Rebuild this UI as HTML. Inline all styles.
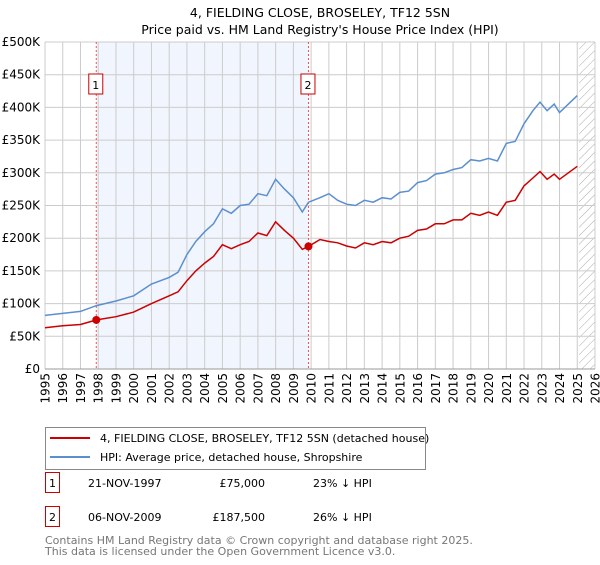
<!DOCTYPE html>
<html><head><meta charset="utf-8"><style>
body{margin:0;background:#fff;font-family:"Liberation Sans","DejaVu Sans",sans-serif}
svg text{font-family:"DejaVu Sans","Liberation Sans",sans-serif}
</style></head><body>
<svg id="c" width="600" height="560" xmlns="http://www.w3.org/2000/svg">
<text x="320" y="17" text-anchor="middle" font-size="12.5">4, FIELDING CLOSE, BROSELEY, TF12 5SN</text>
<text x="320" y="34" text-anchor="middle" font-size="12.5">Price paid vs. HM Land Registry's House Price Index (HPI)</text>
<g id="plot"></g>
<g>
<rect x="45.5" y="427.5" width="380" height="42" fill="#fff" stroke="#888"/>
<line x1="50" y1="438" x2="90" y2="438" stroke="#cc0000" stroke-width="2"/>
<text x="100" y="442" font-size="11">4, FIELDING CLOSE, BROSELEY, TF12 5SN (detached house)</text>
<line x1="50" y1="457" x2="90" y2="457" stroke="#5b8fd0" stroke-width="2"/>
<text x="100" y="461" font-size="11">HPI: Average price, detached house, Shropshire</text>
</g>
<g font-size="11">
<rect x="45.5" y="472.5" width="14" height="20" fill="#fff" stroke="#cc0000"/>
<text x="52.5" y="487" text-anchor="middle">1</text>
<text x="88" y="487">21-NOV-1997</text><text x="265" y="487" text-anchor="end">£75,000</text><text x="313" y="487">23% ↓ HPI</text>
<rect x="45.5" y="506.5" width="14" height="20" fill="#fff" stroke="#cc0000"/>
<text x="52.5" y="521" text-anchor="middle">2</text>
<text x="88" y="521">06-NOV-2009</text><text x="265" y="521" text-anchor="end">£187,500</text><text x="313" y="521">26% ↓ HPI</text>
</g>
<text x="45" y="544" font-size="11" fill="#777">Contains HM Land Registry data © Crown copyright and database right 2025.</text>
<text x="45" y="555" font-size="11" fill="#777">This data is licensed under the Open Government Licence v3.0.</text>
</svg>
<script>
const hpiYears=[1995,1996,1997,1997.9,1999,2000,2001,2002,2002.5,2003,2003.5,2004,2004.5,2005,2005.5,2006,2006.5,2007,2007.5,2008,2008.5,2009,2009.5,2009.85,2010.5,2011,2011.5,2012,2012.5,2013,2013.5,2014,2014.5,2015,2015.5,2016,2016.5,2017,2017.5,2018,2018.5,2019,2019.5,2020,2020.5,2021,2021.5,2022,2022.5,2022.9,2023.3,2023.7,2024,2024.5,2025];
const hpiValues=[82,85,88,97,104,112,130,140,148,175,195,210,222,245,238,250,252,268,265,290,275,262,240,255,262,268,258,252,250,258,255,262,260,270,272,285,288,298,300,305,308,320,318,322,318,345,348,375,395,408,395,405,392,405,418];
const propValues=[63,66,68,75,80,87,100,112,118,135,150,162,172,190,184,190,195,208,204,225,212,200,183,187.5,198,195,193,188,185,193,190,195,193,200,203,212,214,222,222,228,228,238,235,240,235,255,258,280,292,302,290,298,290,300,310];
const saleYears=[1997.89,2009.85];
const saleValues=[75,187.5];
const saleLabels=["1","2"];
const yTicks=[0,50,100,150,200,250,300,350,400,450,500];
const yTickLabels=["£0","£50K","£100K","£150K","£200K","£250K","£300K","£350K","£400K","£450K","£500K"];
const xYears=[1995,1996,1997,1998,1999,2000,2001,2002,2003,2004,2005,2006,2007,2008,2009,2010,2011,2012,2013,2014,2015,2016,2017,2018,2019,2020,2021,2022,2023,2024,2025,2026];
const L=45,R=595,T=42,B=369;
const x=v=>L+(v-1995)/(2026-1995)*(R-L);
const y=v=>B-v/500*(B-T);
const NS="http://www.w3.org/2000/svg";
const g=document.getElementById('plot');
function mk(t,a){const e=document.createElementNS(NS,t);for(const k in a)e.setAttribute(k,a[k]);g.appendChild(e);return e;}
let e;
e=mk('rect',{x:x(saleYears[0]),y:T,width:x(saleYears[1])-x(saleYears[0]),height:B-T,fill:'#eef3fc',opacity:0.8});


const defs=document.createElementNS(NS,'defs');defs.innerHTML='<pattern id="h" width="6" height="6" patternUnits="userSpaceOnUse" patternTransform="rotate(45)"><line x1="0" y1="0" x2="0" y2="6" stroke="#aaa" stroke-width="1"/></pattern>';g.appendChild(defs);
e=mk('rect',{x:x(2025.1),y:T,width:R-x(2025.1),height:B-T,fill:'url(#h)'});


xYears.forEach(v=>{
 e=mk('line',{x1:x(v),x2:x(v),y1:T,y2:B,stroke:'#ccc','stroke-width':1});
 
 
 const t=mk('text',{transform:`translate(${x(v)+4.5},${B+4}) rotate(-90)`,'text-anchor':'end','font-size':12});
 t.textContent=v;
 
 
});
yTicks.forEach((v,i)=>{
 e=mk('line',{x1:L,x2:R,y1:y(v),y2:y(v),stroke:'#ccc','stroke-width':1});
 
 
 const t=mk('text',{x:L-5,y:y(v)+4,'text-anchor':'end','font-size':12});
 t.textContent=yTickLabels[i];
 
 
});
e=mk('line',{x1:L,x2:R,y1:B,y2:B,stroke:'#999'});


saleYears.forEach((v,i)=>{
 e=mk('line',{x1:x(v),x2:x(v),y1:T,y2:B,stroke:'#e55','stroke-dasharray':'2,2','stroke-width':1});
 
 
 e=mk('rect',{x:x(v)-7.5,y:T+32,width:14,height:20,fill:'#fff',stroke:'#cc0000'});
 
 
 const t=mk('text',{x:x(v)-0.5,y:T+47,'text-anchor':'middle','font-size':11});
 t.textContent=saleLabels[i];
 
 
});
const pts=(vals)=>hpiYears.map((yr,i)=>x(yr).toFixed(1)+','+y(vals[i]).toFixed(1)).join(' ');
e=mk('polyline',{points:pts(hpiValues),fill:'none',stroke:'#5b8fd0','stroke-width':1.5});


e=mk('polyline',{points:pts(propValues),fill:'none',stroke:'#cc0000','stroke-width':1.5});


saleYears.forEach((v,i)=>{
 e=mk('circle',{cx:x(v),cy:y(saleValues[i]),r:4,fill:'#cc0000'});
 
 
});
</script>
</body></html>
